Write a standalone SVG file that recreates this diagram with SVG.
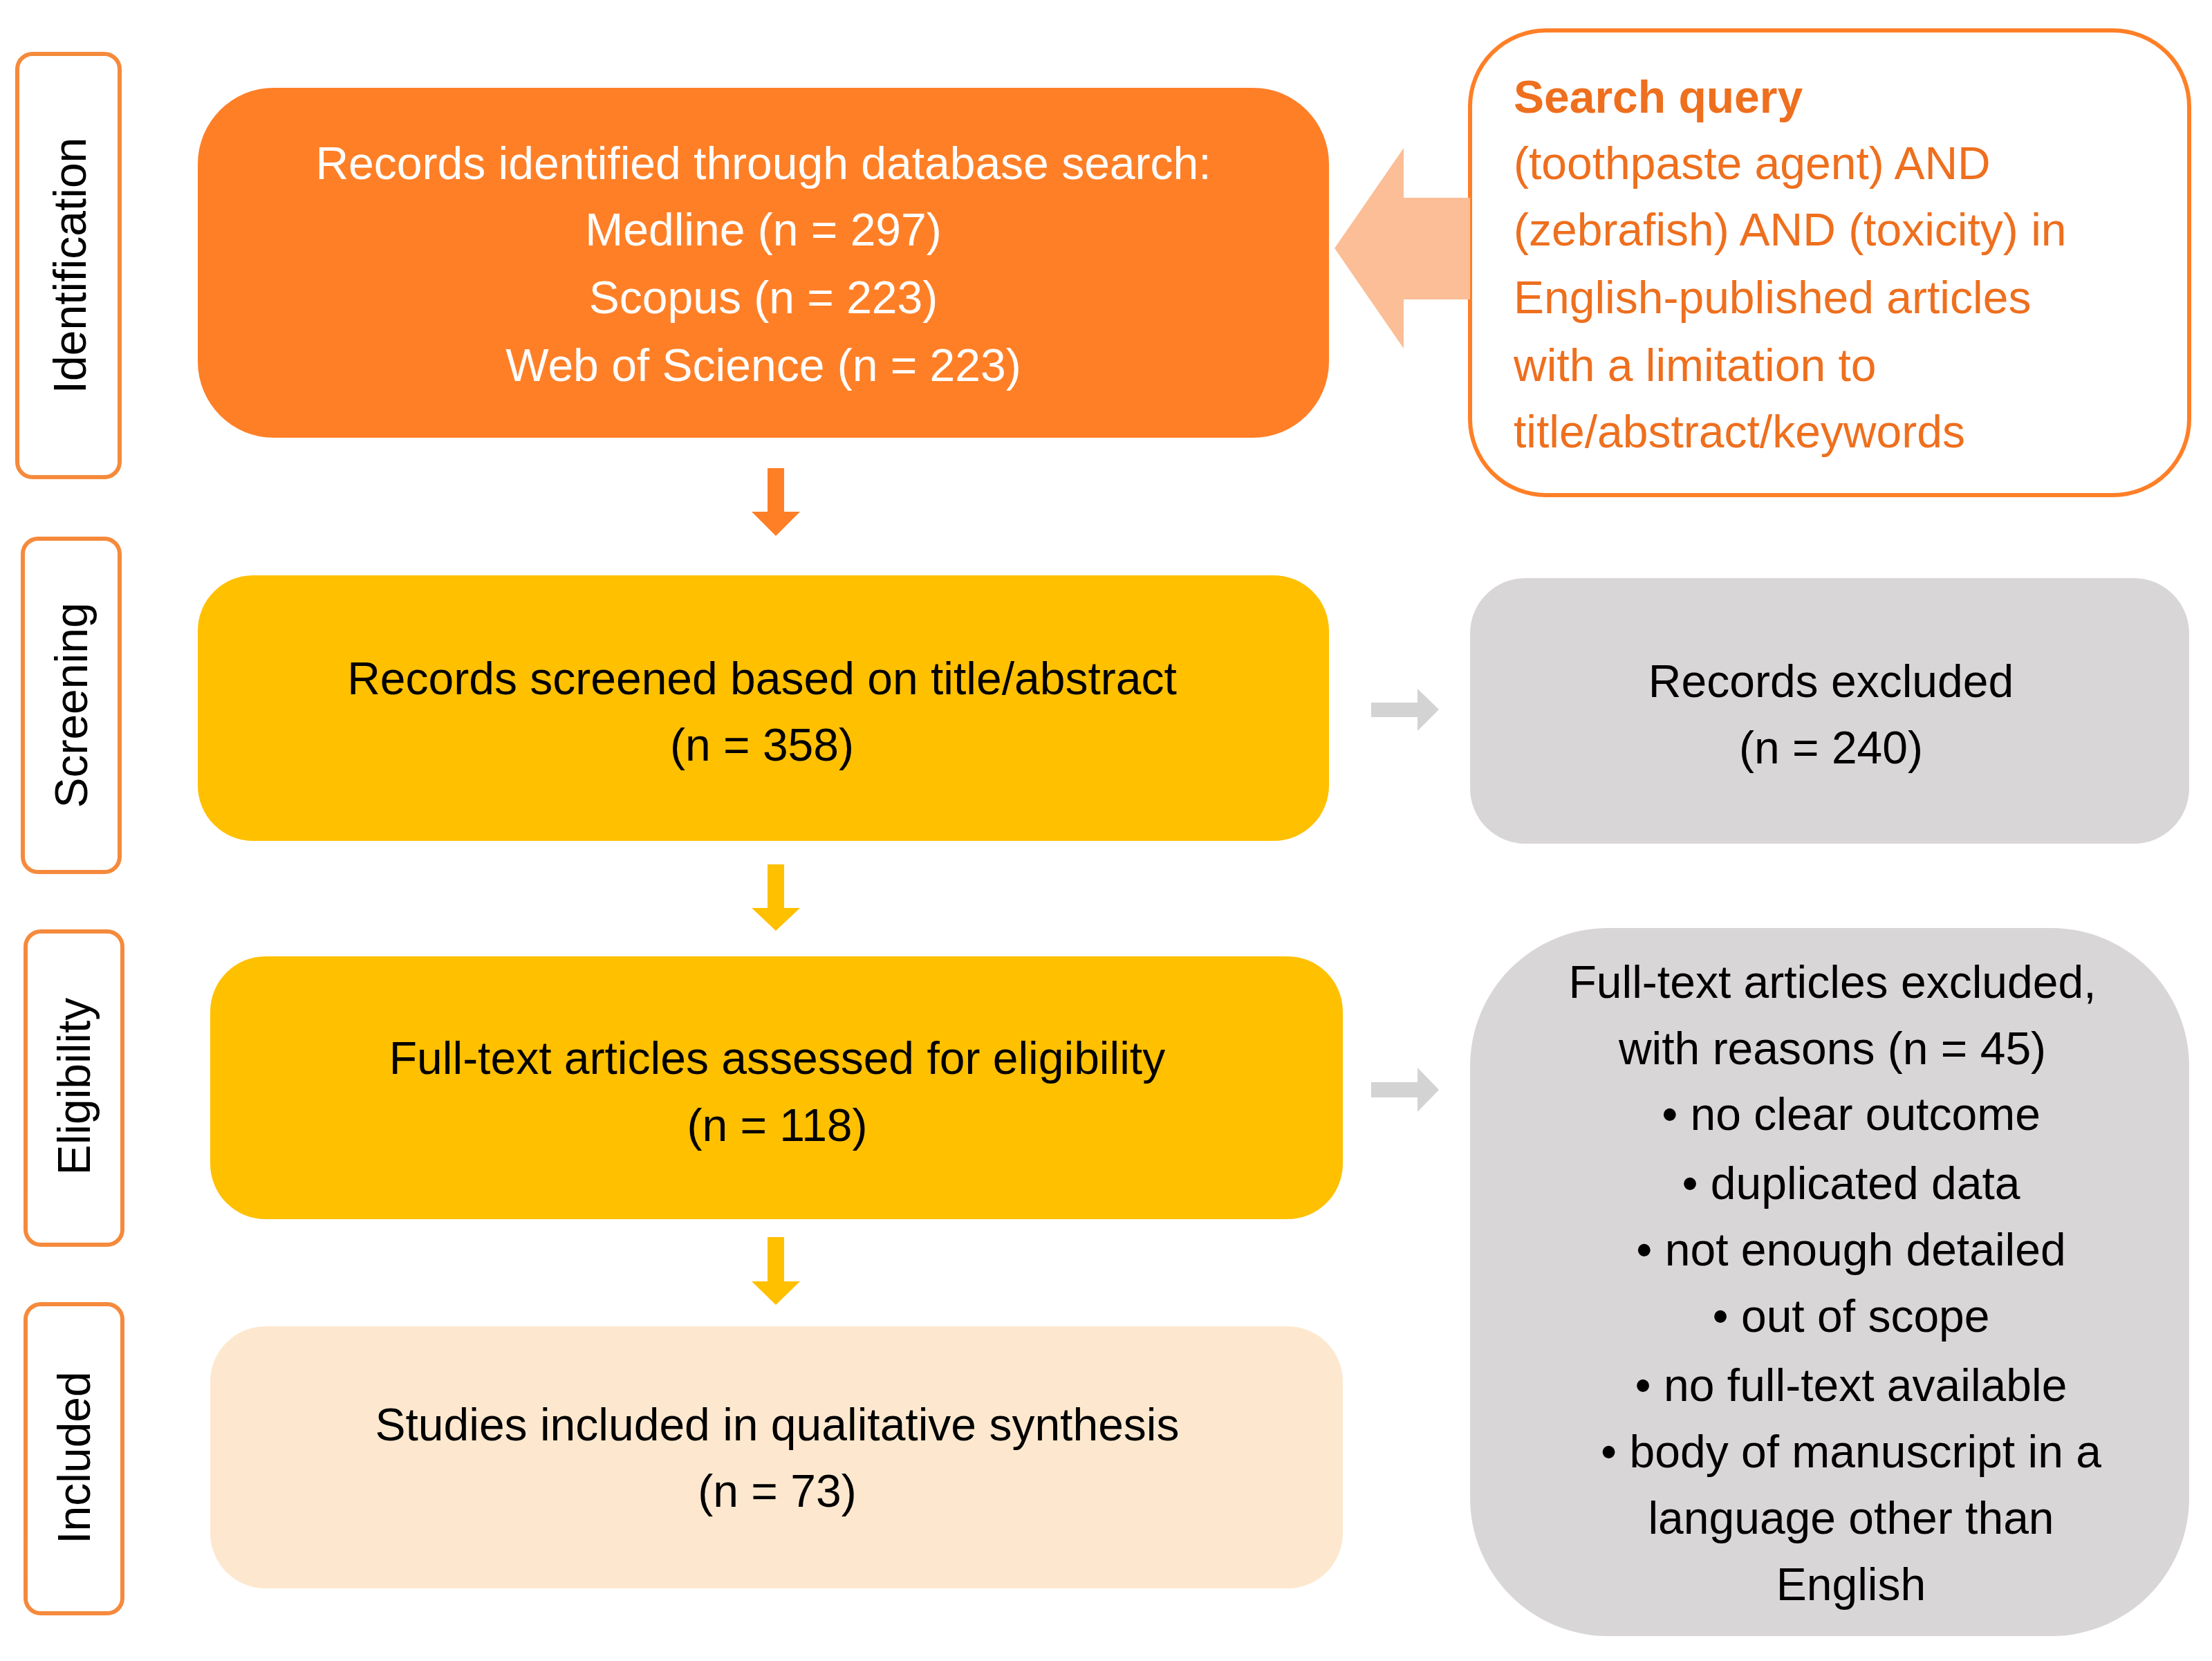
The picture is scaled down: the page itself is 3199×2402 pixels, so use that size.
<svg xmlns="http://www.w3.org/2000/svg" width="3199" height="2402" viewBox="0 0 3199 2402">
<style>
text{font-family:"Liberation Sans",Arial,sans-serif;font-size:66px;}
.c{text-anchor:middle}
.lab{fill:#fff;stroke:#F58A3C;stroke-width:6}
.w{fill:#fff}
.k{fill:#000}
.o{fill:#EE6F1E}
</style>
<rect width="3199" height="2402" fill="#fff"/>
<g id="label-identification"><rect class="lab" x="25" y="78" width="148" height="612" rx="22"/><text class="c k" transform="translate(124,384) rotate(-90)">Identification</text></g>
<g id="label-screening"><rect class="lab" x="33" y="779" width="140" height="482" rx="22"/><text class="c k" transform="translate(126,1020) rotate(-90)">Screening</text></g>
<g id="label-eligibility"><rect class="lab" x="37" y="1347" width="140" height="453" rx="22"/><text class="c k" transform="translate(130,1571) rotate(-90)">Eligibility</text></g>
<g id="label-included"><rect class="lab" x="37" y="1886" width="140" height="447" rx="22"/><text class="c k" transform="translate(130,2108) rotate(-90)">Included</text></g>
<g id="identified"><rect x="286" y="127" width="1636" height="506" rx="110" fill="#FF7F27"/>
<text class="c w" x="1104" y="259">Records identified through database search:</text>
<text class="c w" x="1104" y="355">Medline (n = 297)</text>
<text class="c w" x="1104" y="453">Scopus (n = 223)</text>
<text class="c w" x="1104" y="551">Web of Science (n = 223)</text></g>
<g id="query"><rect x="2126" y="44" width="1040" height="672" rx="110" fill="#fff" stroke="#FF7F27" stroke-width="6"/>
<text class="o" x="2189" y="163" font-weight="bold">Search query</text>
<text class="o" x="2189" y="259">(toothpaste agent) AND</text>
<text class="o" x="2189" y="355">(zebrafish) AND (toxicity) in</text>
<text class="o" x="2189" y="453">English-published articles</text>
<text class="o" x="2189" y="551">with a limitation to</text>
<text class="o" x="2189" y="647">title/abstract/keywords</text></g>
<g id="screened"><rect x="286" y="832" width="1636" height="384" rx="80" fill="#FFC000"/>
<text class="c k" x="1102" y="1004">Records screened based on title/abstract</text>
<text class="c k" x="1102" y="1100">(n = 358)</text></g>
<g id="excluded"><rect x="2126" y="836" width="1040" height="384" rx="80" fill="#D9D6D8"/>
<text class="c k" x="2648" y="1008">Records excluded</text>
<text class="c k" x="2648" y="1104">(n = 240)</text></g>
<g id="eligible"><rect x="304" y="1383" width="1638" height="380" rx="80" fill="#FFC000"/>
<text class="c k" x="1124" y="1553">Full-text articles assessed for eligibility</text>
<text class="c k" x="1124" y="1650">(n = 118)</text></g>
<g id="included"><rect x="304" y="1918" width="1638" height="379" rx="80" fill="#FDE8CF"/>
<text class="c k" x="1124" y="2083">Studies included in qualitative synthesis</text>
<text class="c k" x="1124" y="2179">(n = 73)</text></g>
<g id="fulltext-excluded"><rect x="2126" y="1342" width="1040" height="1024" rx="200" fill="#D9D6D8"/>
<text class="c k" x="2650" y="1443">Full-text articles excluded,</text>
<text class="c k" x="2650" y="1539">with reasons (n = 45)</text>
<text class="c k" x="2677" y="1634">• no clear outcome</text>
<text class="c k" x="2677" y="1734">• duplicated data</text>
<text class="c k" x="2677" y="1830">• not enough detailed</text>
<text class="c k" x="2677" y="1926">• out of scope</text>
<text class="c k" x="2677" y="2026">• no full-text available</text>
<text class="c k" x="2677" y="2122">• body of manuscript in a</text>
<text class="c k" x="2677" y="2218">language other than</text>
<text class="c k" x="2677" y="2314">English</text></g>
<g id="connectors">
<polygon points="2126,286 2030,286 2030,214 1930,359 2030,504 2030,433 2126,433" fill="#FBBE96"/>
<polygon points="1110,677 1134,677 1134,740 1157,740 1122,775 1087,740 1110,740" fill="#FF7F27"/>
<polygon points="1110,1250 1134,1250 1134,1313 1157,1313 1122,1346 1087,1313 1110,1313" fill="#FFC000"/>
<polygon points="1110,1789 1134,1789 1134,1853 1157,1853 1122,1887 1087,1853 1110,1853" fill="#FFC000"/>
<polygon points="1983,1016 2050,1016 2050,996 2081,1026 2050,1057 2050,1037 1983,1037" fill="#D3D3D3"/>
<polygon points="1983,1565 2050,1565 2050,1544 2081,1576 2050,1608 2050,1587 1983,1587" fill="#D3D3D3"/>
</g>
</svg>
